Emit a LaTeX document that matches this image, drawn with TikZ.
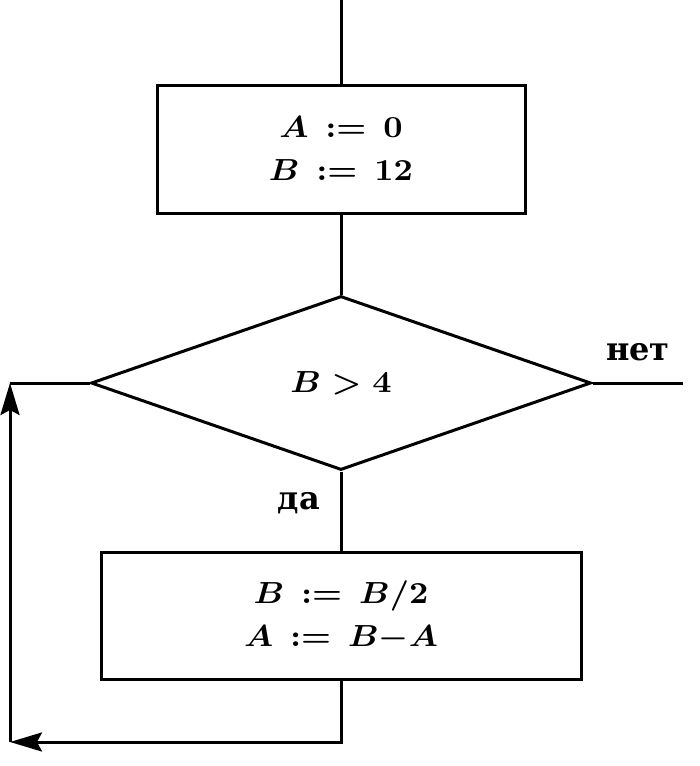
\documentclass[tikz,border=0pt]{standalone}
\usepackage{graphicx}
\usepackage{fontspec}
\newfontfamily\cyrfont{DejaVu Serif}
\usetikzlibrary{shapes.geometric,arrows.meta}
\newcommand{\asg}{\mathrel{\,:=\,}}
\newcommand{\mybig}[1]{\scalebox{3.35}[3.05]{$#1$}}
\begin{document}
\begin{tikzpicture}[x=1pt,y=-1pt,
  line width=3pt,
  proc/.style={draw,rectangle,align=center,font=\fontsize{10}{43}\selectfont\boldmath,inner sep=0pt},
  cond/.style={draw,diamond,inner sep=0pt,font=\fontsize{10}{12}\selectfont\boldmath},
  lbl/.style={font=\cyrfont\bfseries\fontsize{32}{36}\selectfont},
  arr/.style={-{Stealth[length=32pt,width=19pt,inset=5pt]}}]
\useasboundingbox (0,0) rectangle (700,766);
\node[proc,minimum width=368pt,minimum height=128pt] (b1) at (341,149) {\mybig{A\asg 0}\\\mybig{B\asg 12}};
\node[cond,minimum width=500pt,minimum height=174pt] (d) at (341,383) {\mybig{B>4}};
\node[proc,minimum width=480pt,minimum height=127pt] (b2) at (341,616) {\mybig{B\asg B/2}\\\mybig{A\asg B{-}A}};
\coordinate (top) at (341,0);
\coordinate (no) at (683,383);
\coordinate (c1) at (10,742);
\coordinate (c2) at (10,383);
\node[lbl] (net) at (638,352) {нет};
\node[lbl] (da) at (299,503) {да};
\draw (top) -- (b1.north);
\draw (b1.south) -- (d.north);
\draw (d.east) -- (no);
\draw (d.south) -- (b2.north);
\draw[arr] (b2.south) |- (c1);
\draw[arr] (c1) -- (c2);
\draw (c2) -- (d.west);
\end{tikzpicture}
\end{document}
